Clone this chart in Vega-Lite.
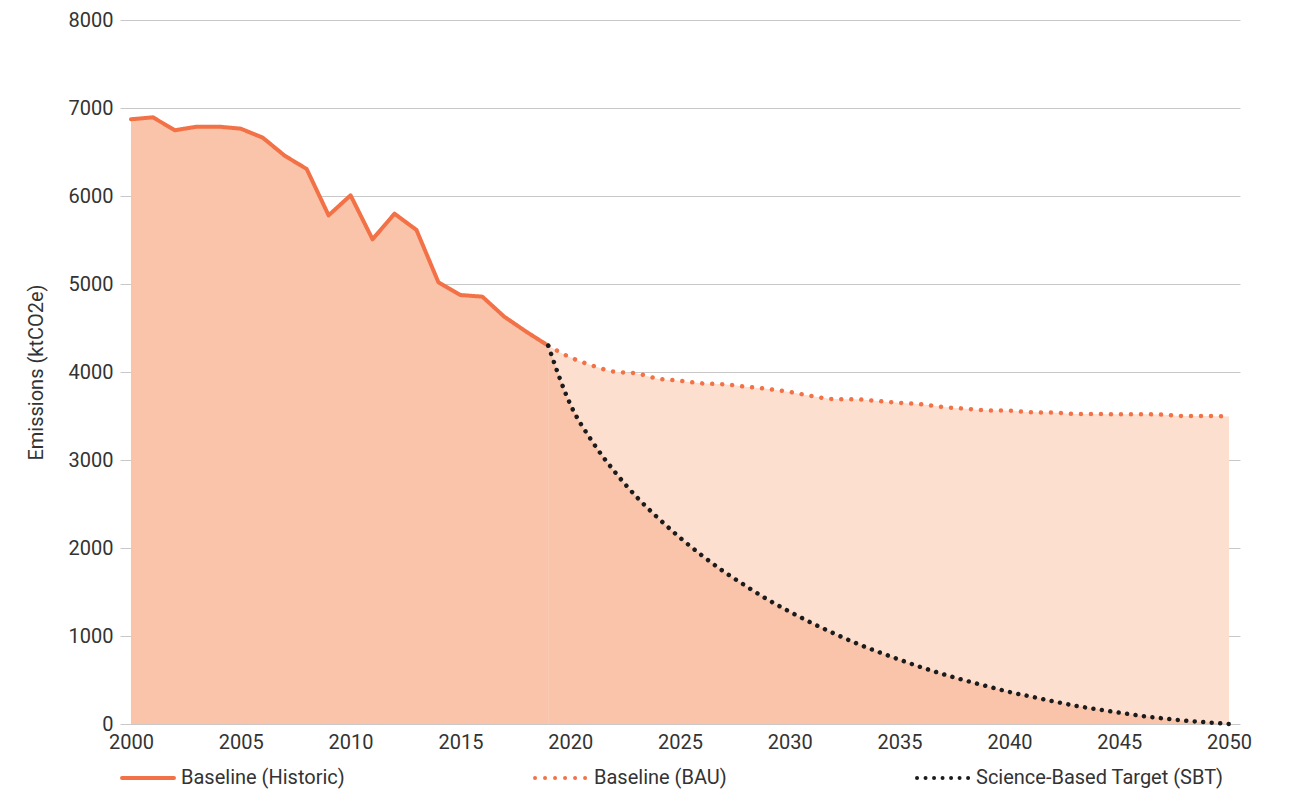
{
  "$schema": "https://vega.github.io/schema/vega-lite/v6.json",
  "width": 1120,
  "height": 704,
  "autosize": "none",
  "padding": {"left": 120, "top": 20, "right": 51, "bottom": 68},
  "background": "white",
  "config": {
    "view": {"stroke": null},
    "font": "Roboto",
    "axis": {"labelFont": "Roboto", "labelFontSize": 20, "labelColor": "#333333", "titleFont": "Roboto", "titleFontSize": 20, "titleFontWeight": "normal", "titleColor": "#333333"}
  },
  "data": {"values": [
    {"year": 2000, "value": 6872, "series": "Baseline (Historic)"},
    {"year": 2001, "value": 6894, "series": "Baseline (Historic)"},
    {"year": 2002, "value": 6747, "series": "Baseline (Historic)"},
    {"year": 2003, "value": 6788, "series": "Baseline (Historic)"},
    {"year": 2004, "value": 6788, "series": "Baseline (Historic)"},
    {"year": 2005, "value": 6765, "series": "Baseline (Historic)"},
    {"year": 2006, "value": 6663, "series": "Baseline (Historic)"},
    {"year": 2007, "value": 6458, "series": "Baseline (Historic)"},
    {"year": 2008, "value": 6307, "series": "Baseline (Historic)"},
    {"year": 2009, "value": 5780, "series": "Baseline (Historic)"},
    {"year": 2010, "value": 6008, "series": "Baseline (Historic)"},
    {"year": 2011, "value": 5508, "series": "Baseline (Historic)"},
    {"year": 2012, "value": 5799, "series": "Baseline (Historic)"},
    {"year": 2013, "value": 5614, "series": "Baseline (Historic)"},
    {"year": 2014, "value": 5019, "series": "Baseline (Historic)"},
    {"year": 2015, "value": 4875, "series": "Baseline (Historic)"},
    {"year": 2016, "value": 4856, "series": "Baseline (Historic)"},
    {"year": 2017, "value": 4628, "series": "Baseline (Historic)"},
    {"year": 2018, "value": 4458, "series": "Baseline (Historic)"},
    {"year": 2019, "value": 4299, "series": "Baseline (Historic)"},
    {"year": 2019, "value": 4299, "series": "Baseline (BAU)"},
    {"year": 2020, "value": 4167, "series": "Baseline (BAU)"},
    {"year": 2021, "value": 4074, "series": "Baseline (BAU)"},
    {"year": 2022, "value": 4004, "series": "Baseline (BAU)"},
    {"year": 2023, "value": 3985, "series": "Baseline (BAU)"},
    {"year": 2024, "value": 3924, "series": "Baseline (BAU)"},
    {"year": 2025, "value": 3901, "series": "Baseline (BAU)"},
    {"year": 2026, "value": 3871, "series": "Baseline (BAU)"},
    {"year": 2027, "value": 3860, "series": "Baseline (BAU)"},
    {"year": 2028, "value": 3833, "series": "Baseline (BAU)"},
    {"year": 2029, "value": 3807, "series": "Baseline (BAU)"},
    {"year": 2030, "value": 3773, "series": "Baseline (BAU)"},
    {"year": 2031, "value": 3727, "series": "Baseline (BAU)"},
    {"year": 2032, "value": 3693, "series": "Baseline (BAU)"},
    {"year": 2033, "value": 3690, "series": "Baseline (BAU)"},
    {"year": 2034, "value": 3670, "series": "Baseline (BAU)"},
    {"year": 2035, "value": 3650, "series": "Baseline (BAU)"},
    {"year": 2036, "value": 3633, "series": "Baseline (BAU)"},
    {"year": 2037, "value": 3602, "series": "Baseline (BAU)"},
    {"year": 2038, "value": 3583, "series": "Baseline (BAU)"},
    {"year": 2039, "value": 3564, "series": "Baseline (BAU)"},
    {"year": 2040, "value": 3560, "series": "Baseline (BAU)"},
    {"year": 2041, "value": 3542, "series": "Baseline (BAU)"},
    {"year": 2042, "value": 3540, "series": "Baseline (BAU)"},
    {"year": 2043, "value": 3523, "series": "Baseline (BAU)"},
    {"year": 2044, "value": 3523, "series": "Baseline (BAU)"},
    {"year": 2045, "value": 3520, "series": "Baseline (BAU)"},
    {"year": 2046, "value": 3520, "series": "Baseline (BAU)"},
    {"year": 2047, "value": 3515, "series": "Baseline (BAU)"},
    {"year": 2048, "value": 3500, "series": "Baseline (BAU)"},
    {"year": 2049, "value": 3500, "series": "Baseline (BAU)"},
    {"year": 2050, "value": 3495, "series": "Baseline (BAU)"},
    {"year": 2019, "value": 4299, "series": "Science-Based Target (SBT)"},
    {"year": 2020, "value": 3636, "series": "Science-Based Target (SBT)"},
    {"year": 2021, "value": 3212, "series": "Science-Based Target (SBT)"},
    {"year": 2022, "value": 2875, "series": "Science-Based Target (SBT)"},
    {"year": 2023, "value": 2587, "series": "Science-Based Target (SBT)"},
    {"year": 2024, "value": 2341, "series": "Science-Based Target (SBT)"},
    {"year": 2025, "value": 2117, "series": "Science-Based Target (SBT)"},
    {"year": 2026, "value": 1915, "series": "Science-Based Target (SBT)"},
    {"year": 2027, "value": 1731, "series": "Science-Based Target (SBT)"},
    {"year": 2028, "value": 1568, "series": "Science-Based Target (SBT)"},
    {"year": 2029, "value": 1413, "series": "Science-Based Target (SBT)"},
    {"year": 2030, "value": 1276, "series": "Science-Based Target (SBT)"},
    {"year": 2031, "value": 1148, "series": "Science-Based Target (SBT)"},
    {"year": 2032, "value": 1030, "series": "Science-Based Target (SBT)"},
    {"year": 2033, "value": 920, "series": "Science-Based Target (SBT)"},
    {"year": 2034, "value": 822, "series": "Science-Based Target (SBT)"},
    {"year": 2035, "value": 731, "series": "Science-Based Target (SBT)"},
    {"year": 2036, "value": 644, "series": "Science-Based Target (SBT)"},
    {"year": 2037, "value": 565, "series": "Science-Based Target (SBT)"},
    {"year": 2038, "value": 494, "series": "Science-Based Target (SBT)"},
    {"year": 2039, "value": 428, "series": "Science-Based Target (SBT)"},
    {"year": 2040, "value": 364, "series": "Science-Based Target (SBT)"},
    {"year": 2041, "value": 311, "series": "Science-Based Target (SBT)"},
    {"year": 2042, "value": 258, "series": "Science-Based Target (SBT)"},
    {"year": 2043, "value": 208, "series": "Science-Based Target (SBT)"},
    {"year": 2044, "value": 167, "series": "Science-Based Target (SBT)"},
    {"year": 2045, "value": 129, "series": "Science-Based Target (SBT)"},
    {"year": 2046, "value": 93, "series": "Science-Based Target (SBT)"},
    {"year": 2047, "value": 64, "series": "Science-Based Target (SBT)"},
    {"year": 2048, "value": 38, "series": "Science-Based Target (SBT)"},
    {"year": 2049, "value": 19, "series": "Science-Based Target (SBT)"},
    {"year": 2050, "value": 0, "series": "Science-Based Target (SBT)"}
  ]},
  "encoding": {
    "x": {"field": "year", "type": "quantitative", "scale": {"domain": [1999.5, 2050.5], "nice": false, "zero": false},
      "axis": {"title": null, "values": [2000, 2005, 2010, 2015, 2020, 2025, 2030, 2035, 2040, 2045, 2050], "format": "d", "grid": false, "domain": false, "ticks": false, "labelPadding": 8, "labelFlush": false}},
    "y": {"field": "value", "type": "quantitative", "stack": null, "scale": {"domain": [0, 8000], "nice": false},
      "axis": {"title": "Emissions (ktCO2e)", "values": [0, 1000, 2000, 3000, 4000, 5000, 6000, 7000, 8000], "format": "d", "grid": true, "gridColor": "#c8c8c8", "gridWidth": 1, "domain": false, "ticks": false, "labelPadding": 7, "titlePadding": 22}}
  },
  "layer": [
    {
      "transform": [{"filter": "datum.series === 'Baseline (BAU)'"}],
      "mark": {"type": "area", "color": "#fcdfcf", "interpolate": "monotone", "opacity": 1},
      "encoding": {}
    },
    {
      "transform": [{"filter": "datum.series === 'Baseline (Historic)'"}],
      "mark": {"type": "area", "color": "#f9c4a9", "opacity": 1},
      "encoding": {}
    },
    {
      "transform": [{"filter": "datum.series === 'Science-Based Target (SBT)'"}],
      "mark": {"type": "area", "color": "#f9c4a9", "interpolate": "monotone", "opacity": 1},
      "encoding": {}
    },
    {
      "transform": [{"filter": "datum.series === 'Baseline (Historic)'"}],
      "mark": {"type": "line", "strokeWidth": 4, "strokeCap": "round", "strokeJoin": "round"},
      "encoding": {
        "color": {"field": "series", "type": "nominal",
          "scale": {"domain": ["Baseline (Historic)", "Baseline (BAU)", "Science-Based Target (SBT)"], "range": ["#f27146", "#f27146", "#1c1c1c"]},
          "legend": {"title": null, "orient": "bottom", "direction": "horizontal", "symbolType": "stroke", "symbolSize": 2700, "symbolStrokeWidth": 4, "labelFont": "Roboto", "labelFontSize": 20, "labelColor": "#333333", "labelLimit": 400, "labelOffset": 5, "columnPadding": 182, "offset": -2,
            "encode": {"symbols": {"update": {"strokeCap": {"value": "round"}}}}}},
        "strokeDash": {"field": "series", "type": "nominal",
          "scale": {"domain": ["Baseline (Historic)", "Baseline (BAU)", "Science-Based Target (SBT)"], "range": [[1, 0], [0.01, 10], [0.01, 8.5]]},
          "legend": {"title": null, "orient": "bottom", "direction": "horizontal", "symbolType": "stroke", "symbolSize": 2700, "symbolStrokeWidth": 4, "labelFont": "Roboto", "labelFontSize": 20, "labelColor": "#333333", "labelLimit": 400, "labelOffset": 5, "columnPadding": 182, "offset": -2,
            "encode": {"symbols": {"update": {"strokeCap": {"value": "round"}}}}}}
      }
    },
    {
      "transform": [{"filter": "datum.series !== 'Baseline (Historic)'"}],
      "mark": {"type": "line", "strokeWidth": 4.5, "strokeCap": "round", "interpolate": "monotone"},
      "encoding": {
        "color": {"field": "series", "type": "nominal"},
        "strokeDash": {"field": "series", "type": "nominal"}
      }
    }
  ]
}
